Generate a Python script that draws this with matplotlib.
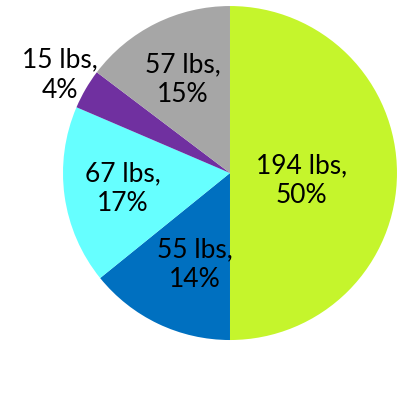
import numpy as np
import matplotlib.pyplot as plt

weights = [194, 55, 67, 15, 57]
units = "lbs"
colors = ["#c5f52c", "#0070c0", "#66ffff", "#7030a0", "#a6a6a6"]
# radial position of each label, as a fraction of the radius
label_r = [0.43, 0.60, 0.65, 1.18, 0.63]

total = sum(weights)

fig = plt.figure(figsize=(4.02, 4.06), dpi=100)
ax = fig.add_axes([0.1567, 0.160, 0.8308, 0.8227])

wedges, _ = ax.pie(weights, colors=colors, startangle=90, counterclock=False,
                   wedgeprops=dict(linewidth=0))

for i, (w, val, r) in enumerate(zip(wedges, weights, label_r)):
    mid = np.deg2rad((w.theta1 + w.theta2) / 2)
    x, y = r * np.cos(mid), r * np.sin(mid)
    if i == 0:
        y -= 0.04
    elif i == 1:
        x += 0.05
    pct = round(100 * val / total)
    ax.text(x, y, f"{val} {units},\n{pct}%", ha="center", va="center",
            fontsize=19, family="Lato", linespacing=1.25, color="black")

ax.set_xlim(-1, 1)
ax.set_ylim(-1, 1)
ax.set_aspect("equal")
ax.axis("off")

fig.savefig("out.png", dpi=100)
